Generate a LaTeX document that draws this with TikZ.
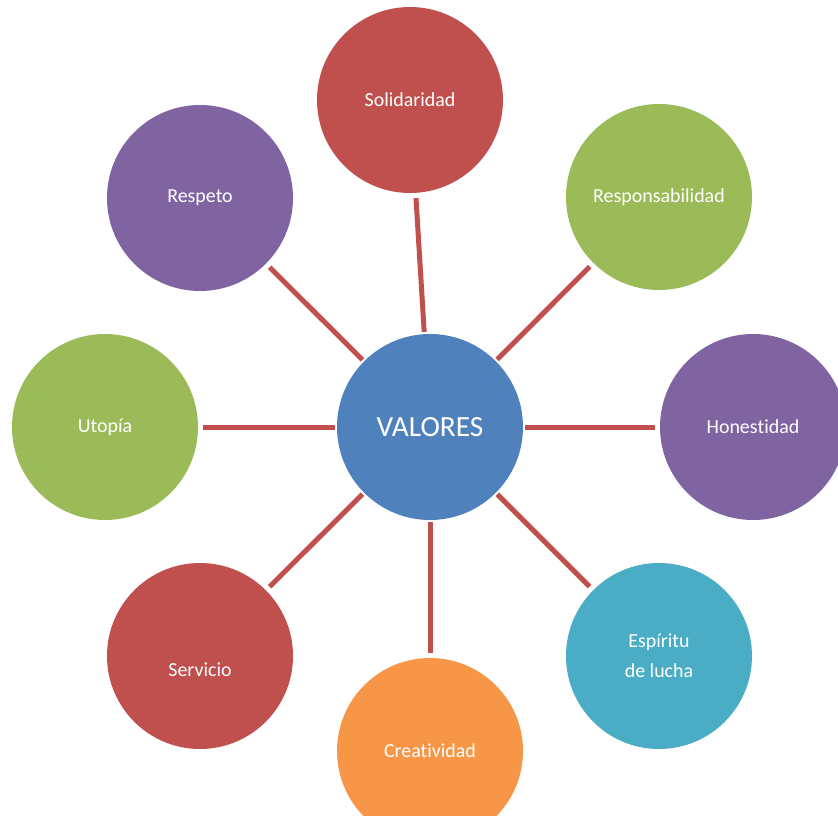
\documentclass[tikz,border=0pt]{standalone}
\usepackage{fontspec}
\setmainfont{Carlito}[Ligatures={NoCommon,NoRequired},Contextuals=NoAlternate]
\usetikzlibrary{positioning}
\definecolor{vblue}{HTML}{4F81BD}
\definecolor{vred}{HTML}{C0504D}
\definecolor{vgreen}{HTML}{9BBB59}
\definecolor{vpurple}{HTML}{8064A2}
\definecolor{vaqua}{HTML}{4BACC6}
\definecolor{vorange}{HTML}{F79646}
\begin{document}
\begin{tikzpicture}[
  x=0.03cm,y=-0.03cm,
  valor/.style={circle,minimum size=5.58cm,inner sep=0pt,text=white,align=center,
    font=\fontsize{17}{25.5}\selectfont},
  enlace/.style={draw=vred,line width=0.15cm,shorten <=0.06cm,shorten >=0.15cm}
]
\useasboundingbox (0,0) rectangle (838,816);
\node[valor,fill=vblue,font=\fontsize{25}{30}\selectfont] (V) at (430,427) {VALORES};
\node[valor,fill=vred] (Sol) at (410,100) {Solidaridad};
\node[valor,fill=vgreen] (Res) at (659,197) {Responsabilidad};
\node[valor,fill=vpurple] (Hon) at (753,427) {Hones\kern0ptt\kern0ptidad};
\node[valor,fill=vaqua] (Esp) at (659,656) {Espíritu\\de lucha};
\node[valor,fill=vorange] (Cre) at (430,751) {Creat\kern0ptivid\kern0ptad};
\node[valor,fill=vred,label={[text=white,font=\fontsize{17}{25.5}\selectfont,yshift=-0.42cm]center:Servicio}] (Ser) at (200,656) {};
\node[valor,fill=vgreen] (Uto) at (105,427) {Utopía};
\node[valor,fill=vpurple] (Rsp) at (200,198) {Respeto};
\path (V) edge[enlace] (Sol)
(V) edge[enlace] (Res)
(V) edge[enlace] (Hon)
(V) edge[enlace] (Esp)
(V) edge[enlace] (Cre)
(V) edge[enlace] (Ser)
(V) edge[enlace] (Uto)
(V) edge[enlace] (Rsp);
\end{tikzpicture}
\end{document}
